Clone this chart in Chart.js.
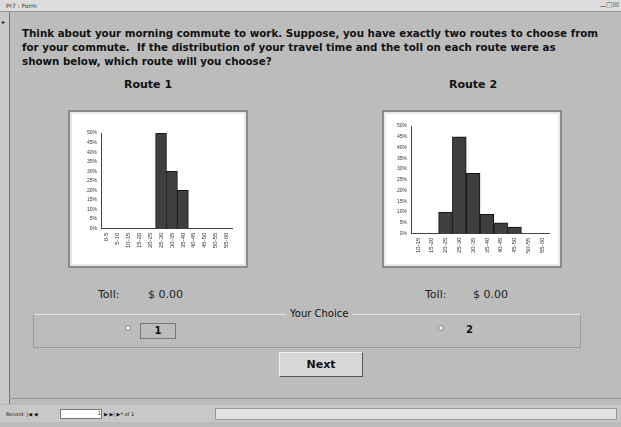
<!DOCTYPE html>
<html>
<head>
<meta charset="utf-8">
<script src="https://cdn.jsdelivr.net/npm/chart.js@4"></script>
<style>
  html, body { margin: 0; padding: 0; }
  body { width: 621px; height: 427px; background: #bcbcbc; position: relative; overflow: hidden;
         font-family: 'DejaVu Sans', sans-serif; color: #111; }
  .abs { position: absolute; }
  #titlebar { left: 0; top: 0; width: 621px; height: 11px; background: #dcdcdc; border-bottom: 1px solid #999;
              font-size: 6px; line-height: 11px; }
  #titlebar span { margin-left: 6px; color: #333; }
  #winbtns { right: 2px; top: 1px; font-size: 7px; color: #555; }
  #selector { left: 0; top: 12px; width: 9px; height: 392px; background: #c8c8c8; border-right: 1px solid #777; }
  #question { left: 22px; top: 26px; white-space: nowrap; font-weight: bold; font-size: 10.3px; line-height: 14px; }
  .route { font-weight: bold; font-size: 11px; }
  .box { background: #fff; border: 2px solid #8a8a8a; box-shadow: inset 0 0 0 2px #e8e8e8; }
  .toll { font-size: 11px; color: #222; }
  #group { left: 33px; top: 314px; width: 546px; height: 32px; border: 1px solid #9a9a9a; border-top-color: #e4e4e4; }
  #grouplabel { left: 286px; top: 308px; font-size: 10px; background: #bcbcbc; padding: 0 4px; }
  .radio { width: 4px; height: 4px; background: #eee; border: 1px solid #888; border-radius: 50%; }
  #next { left: 279px; top: 352px; width: 82px; height: 23px; background: #d8d8d8; border: 1px solid #f0f0f0;
          border-right-color: #555; border-bottom-color: #555; font-weight: bold; font-size: 11px;
          text-align: center; line-height: 23px; }
  #formedge { left: 9px; top: 398px; width: 612px; height: 6px; border-top: 1px solid #999; }
  #navbar { left: 0; top: 405px; width: 621px; height: 17px; background: #c8c8c8; font-size: 5px; }
</style>
</head>
<body>
<div id="titlebar" class="abs"><span>Pr7 : Form</span></div>
<div id="winbtns" class="abs">&#9866;&#9633;&#9746;</div>
<div id="selector" class="abs"><div style="margin:6px 0 0 2px;font-size:6px;">&#9656;</div></div>

<div id="question" class="abs">Think about your morning commute to work. Suppose, you have exactly two routes to choose from<br>for your commute.&nbsp; If the distribution of your travel time and the toll on each route were as<br>shown below, which route will you choose?</div>

<div class="abs route" style="left:124px;top:78px;">Route 1</div>
<div class="abs route" style="left:449px;top:78px;">Route 2</div>

<div class="abs box" style="left:68px;top:110px;width:176px;height:154px;">
  <canvas id="c1" style="position:absolute;left:4px;top:4px;width:168px;height:146px;"></canvas>
</div>
<div class="abs box" style="left:382px;top:110px;width:176px;height:154px;">
  <canvas id="c2" style="position:absolute;left:4px;top:4px;width:168px;height:146px;"></canvas>
</div>

<div class="abs toll" style="left:98px;top:288px;">Toll:</div>
<div class="abs toll" style="left:148px;top:288px;">$ 0.00</div>
<div class="abs toll" style="left:425px;top:288px;">Toll:</div>
<div class="abs toll" style="left:473px;top:288px;">$ 0.00</div>

<div id="group" class="abs"></div>
<div id="grouplabel" class="abs">Your Choice</div>
<div class="abs radio" style="left:125px;top:325px;"></div>
<div class="abs" style="left:140px;top:323px;width:34px;height:14px;border:1px solid #777;font-weight:bold;font-size:10px;text-align:center;line-height:14px;">1</div>
<div class="abs radio" style="left:438px;top:325px;"></div>
<div class="abs" style="left:466px;top:323px;font-weight:bold;font-size:10px;line-height:14px;">2</div>

<div id="next" class="abs">Next</div>
<div id="formedge" class="abs"></div>
<div id="navbar" class="abs">
  <span style="position:absolute;left:6px;top:6px;">Record: |&#9664; &#9664;</span>
  <div style="position:absolute;left:60px;top:4px;width:40px;height:8px;background:#fff;border:1px solid #777;text-align:right;">1</div>
  <span style="position:absolute;left:104px;top:6px;">&#9654; &#9654;| &#9654;* of 1</span>
  <div style="position:absolute;left:215px;top:3px;width:400px;height:10px;background:#e2e2e2;border:1px solid #999;"></div>
</div>

<script>
const route1Labels = ['0-5', '5-10', '10-15', '15-20', '20-25', '25-30', '30-35', '35-40', '40-45', '45-50', '50-55', '55-60'];
const route1Values = [0, 0, 0, 0, 0, 50, 30, 20, 0, 0, 0, 0];

const route2Labels = ['10-15', '15-20', '20-25', '25-30', '30-35', '35-40', '40-45', '45-50', '50-55', '55-60'];
const route2Values = [0, 0, 10, 45, 28, 9, 5, 3, 0, 0];

const percentTicks = [0, 5, 10, 15, 20, 25, 30, 35, 40, 45, 50];

function histogram(id, labels, values, pad) {
    const ctx = document.getElementById(id);
    return new Chart(ctx, {
        type: 'bar',
        data: {
            labels,
            datasets: [{
                data: values,
                backgroundColor: '#3f3f3f',
                borderColor: '#111',
                borderWidth: 1,
                barPercentage: 1,
                categoryPercentage: 1
            }]
        },
        options: {
            responsive: false,
            animation: false,
            layout: { padding: pad },
            plugins: { legend: { display: false }, tooltip: { enabled: false } },
            scales: {
                x: {
                    grid: { display: false, drawTicks: true, tickLength: 3, color: '#444' },
                    border: { color: '#444' },
                    ticks: { color: '#333', font: { size: 6, family: 'Arial' }, minRotation: 90, maxRotation: 90, autoSkip: false, padding: 1 }
                },
                y: {
                    min: 0,
                    max: 50,
                    afterBuildTicks: axis => { axis.ticks = percentTicks.map(v => ({ value: v })); },
                    grid: { display: false, drawTicks: true, tickLength: 3, color: '#444' },
                    border: { color: '#444' },
                    ticks: { color: '#333', font: { size: 5, family: 'Arial' }, padding: 1, callback: v => v + '%' }
                }
            }
        }
    });
}

document.getElementById('c1').width = 168;
document.getElementById('c1').height = 146;
document.getElementById('c2').width = 168;
document.getElementById('c2').height = 146;

histogram('c1', route1Labels, route1Values, { left: 12, right: 10, top: 17, bottom: 13 });
histogram('c2', route2Labels, route2Values, { left: 8, right: 7, top: 10, bottom: 8 });
</script>
</body>
</html>
